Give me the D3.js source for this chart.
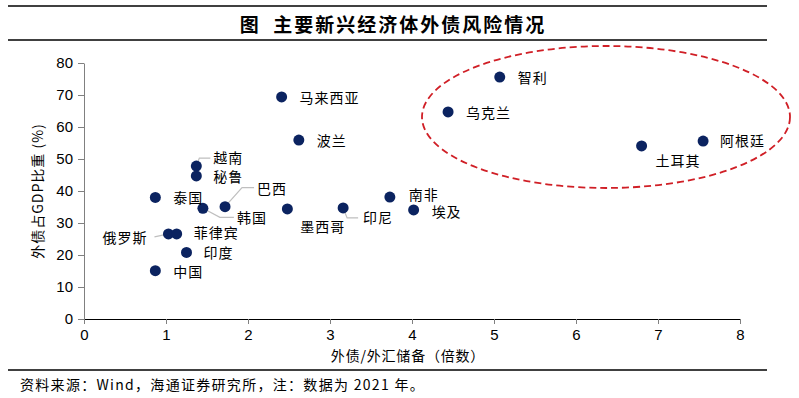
<!DOCTYPE html>
<html>
<head>
<meta charset="utf-8">
<script src="https://cdn.jsdelivr.net/npm/d3@7"></script>
<style>
  html, body { margin: 0; padding: 0; background: #fff; }
  svg { display: block; font-family: "Noto Sans CJK SC", "Liberation Sans", sans-serif; }
</style>
</head>
<body>
<svg id="chart" width="799" height="398"></svg>
<script>
// ---------------------------
// Données
// ---------------------------
const countries = ['智利', '乌克兰', '土耳其', '阿根廷', '马来西亚', '波兰', '南非', '埃及', '印尼', '墨西哥',
  '越南', '秘鲁', '泰国', '巴西', '韩国', '俄罗斯', '菲律宾', '印度', '中国'];
const debtToReserves = [5.07, 4.44, 6.80, 7.55, 2.41, 2.62, 3.73, 4.02, 3.16, 2.48,
  1.37, 1.37, 0.87, 1.72, 1.45, 1.03, 1.13, 1.25, 0.87];
const debtToGdp = [75.6, 64.7, 54.1, 55.6, 69.4, 55.9, 38.1, 34.1, 34.7, 34.4,
  47.8, 44.7, 38.0, 35.1, 34.6, 26.6, 26.6, 20.8, 15.1];
const xTicks = [0, 1, 2, 3, 4, 5, 6, 7, 8];
const yTicks = [0, 10, 20, 30, 40, 50, 60, 70, 80];

const titleText = '图  主要新兴经济体外债风险情况';
const xLabel = '外债/外汇储备（倍数）';
const yLabel = '外债占GDP比重 (%)';
const sourceText = '资料来源：Wind，海通证券研究所，注：数据为 2021 年。';

// ---------------------------
// Mise en page des étiquettes (décalages en px)
// ---------------------------
const labelLayout = {
  '智利': { dx: 18, dy: 0 },
  '乌克兰': { dx: 18, dy: 0 },
  '土耳其': { dx: 14, dy: 14 },
  '阿根廷': { dx: 17, dy: -1 },
  '马来西亚': { dx: 18, dy: 0 },
  '波兰': { dx: 18, dy: 0 },
  '南非': { dx: 19, dy: -3 },
  '埃及': { dx: 18, dy: 1 },
  '印尼': { dx: 20, dy: 9, leader: [[0, 0], [4, 10], [15, 10]] },
  '墨西哥': { dx: 13, dy: 17 },
  '越南': { dx: 17, dy: -9, leader: [[0, 0], [3, -8], [14, -8]] },
  '秘鲁': { dx: 17, dy: 0 },
  '泰国': { dx: 18, dy: 0 },
  '巴西': { dx: 32, dy: -19, leader: [[0, 0], [17, -19], [29, -19]] },
  '韩国': { dx: 34, dy: 9, leader: [[0, 0], [17, 9], [31, 9]] },
  '俄罗斯': { dx: -21, dy: 3, anchor: 'end', leader: [[0, 0], [-14, 3]] },
  '菲律宾': { dx: 17, dy: -2 },
  '印度': { dx: 17, dy: 0 },
  '中国': { dx: 18, dy: 0 }
};

const points = countries.map((name, i) => ({ name, x: debtToReserves[i], y: debtToGdp[i] }));

const svg = d3.select('#chart');
const margin = { left: 84, right: 59, top: 63, bottom: 79 };
const width = 799, height = 398;

const x = d3.scaleLinear().domain([0, 8]).range([margin.left, width - margin.right]);
const y = d3.scaleLinear().domain([0, 80]).range([height - margin.bottom, margin.top]);

// ---------------------------
// Titre et filets
// ---------------------------
svg.append('line').attr('x1', 8).attr('x2', 767).attr('y1', 6).attr('y2', 6)
  .attr('stroke', '#000').attr('stroke-width', 1.5);
svg.append('line').attr('x1', 8).attr('x2', 767).attr('y1', 40).attr('y2', 40)
  .attr('stroke', '#000').attr('stroke-width', 1.5);
svg.append('text')
  .attr('x', 393).attr('y', 23)
  .attr('text-anchor', 'middle').attr('dominant-baseline', 'central')
  .style('font-size', '19px').style('font-weight', '600')
  .style('white-space', 'pre')
  .attr('letter-spacing', '2px')
  .text(titleText);

svg.append('line').attr('x1', 8).attr('x2', 767).attr('y1', 370).attr('y2', 370)
  .attr('stroke', '#000').attr('stroke-width', 1.5);
svg.append('text')
  .attr('x', 20).attr('y', 384)
  .attr('dominant-baseline', 'central')
  .style('font-size', '14px')
  .attr('letter-spacing', '1.3px')
  .text(sourceText);

// ---------------------------
// Axes
// ---------------------------
const tickFont = '"Liberation Sans Narrow", "Liberation Sans", Arial, sans-serif';

const yAxis = svg.append('g')
  .attr('transform', `translate(${margin.left},0)`)
  .call(d3.axisLeft(y).tickValues(yTicks).tickSize(6).tickPadding(5).tickSizeOuter(0));
yAxis.select('.domain').attr('stroke', '#808080');
yAxis.selectAll('.tick line').attr('stroke', '#808080');
yAxis.selectAll('.tick text').style('font-family', tickFont).style('font-size', '15px').attr('fill', '#000');

const xAxis = svg.append('g')
  .attr('transform', `translate(0,${y(0)})`)
  .call(d3.axisBottom(x).tickValues(xTicks).tickSize(5).tickPadding(5).tickSizeOuter(0));
xAxis.select('.domain').attr('stroke', '#000');
xAxis.selectAll('.tick line').attr('stroke', '#808080');
xAxis.selectAll('.tick text').style('font-family', tickFont).style('font-size', '15px').attr('fill', '#000');

svg.append('text')
  .attr('x', 408).attr('y', 355)
  .attr('text-anchor', 'middle').attr('dominant-baseline', 'central')
  .style('font-size', '14px')
  .attr('letter-spacing', '0.8px')
  .text(xLabel);

svg.append('text')
  .attr('transform', 'translate(37,191) rotate(-90)')
  .attr('text-anchor', 'middle').attr('dominant-baseline', 'central')
  .style('font-size', '14px')
  .attr('letter-spacing', '1px')
  .text(yLabel);

// ---------------------------
// Ellipse de mise en évidence
// ---------------------------
svg.append('ellipse')
  .attr('cx', 606).attr('cy', 117).attr('rx', 184).attr('ry', 71)
  .attr('fill', 'none')
  .attr('stroke', '#d01f26').attr('stroke-width', 1.8)
  .attr('stroke-dasharray', '7,4');

// ---------------------------
// Lignes de rappel, points, étiquettes
// ---------------------------
const leaderGroup = svg.append('g');
points.forEach(p => {
  const lay = labelLayout[p.name];
  if (!lay.leader) return;
  leaderGroup.append('polyline')
    .attr('points', lay.leader.map(([lx, ly]) => `${x(p.x) + lx},${y(p.y) + ly}`).join(' '))
    .attr('fill', 'none').attr('stroke', '#bfbfbf').attr('stroke-width', 1.2);
});

svg.append('g').selectAll('circle')
  .data(points)
  .enter()
  .append('circle')
  .attr('cx', d => x(d.x))
  .attr('cy', d => y(d.y))
  .attr('r', 5.5)
  .attr('fill', '#0b2360');

svg.append('g').selectAll('text')
  .data(points)
  .enter()
  .append('text')
  .attr('x', d => x(d.x) + labelLayout[d.name].dx)
  .attr('y', d => y(d.y) + labelLayout[d.name].dy)
  .attr('text-anchor', d => labelLayout[d.name].anchor || 'start')
  .attr('dominant-baseline', 'central')
  .style('font-size', '14px')
  .attr('letter-spacing', '1px')
  .text(d => d.name);
</script>
</body>
</html>
